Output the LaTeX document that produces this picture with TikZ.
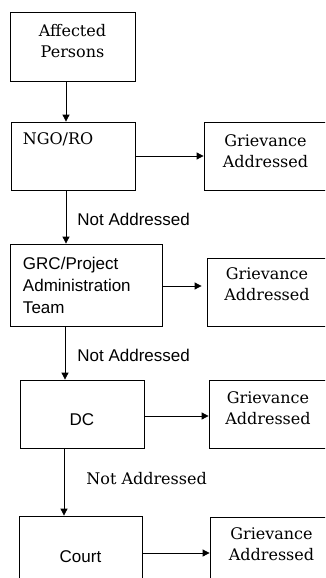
\documentclass[tikz,border=0pt]{standalone}
\usepackage{fontspec}
\usetikzlibrary{arrows.meta}
\newfontfamily\boxserif{DejaVu Serif}
\newfontfamily\boxsans{Liberation Sans}
\tikzstyle{box}=[rectangle,draw=black,thick,inner sep=0pt]
\tikzstyle{serif}=[font=\boxserif\fontsize{16}{21}\selectfont]
\tikzstyle{sans}=[font=\boxsans\fontsize{17}{22}\selectfont]
\tikzstyle{lbl}=[inner sep=0pt,anchor=west,xshift=11pt]

\begin{document}
\begin{tikzpicture}[x=1pt,y=-1pt,>={Triangle[length=7pt,width=7pt]}]
\useasboundingbox (0,0) rectangle (325,578);
\clip (0,0) rectangle (325,578);

\node (ap) at (72.5,46.5) [box,minimum width=125pt,minimum height=69pt,label={[serif,align=center,yshift=5pt]center:Affected\\Persons}] {};
\node (ngo) at (73,156) [box,minimum width=124pt,minimum height=68pt,label={[serif,anchor=north west,inner sep=0pt,xshift=12pt,yshift=-11pt]north west:NGO/RO}] {};
\node (grc) at (86,285) [box,sans,align=left,text width=126pt,inner xsep=13pt,minimum height=82pt] {GRC/Project\\Administration\\Team};
\node (dc) at (82,414) [box,minimum width=124pt,minimum height=68pt,label={[sans,yshift=-6pt]center:DC}] {};
\node (court) at (80.5,557) [box,sans,minimum width=123pt,minimum height=82pt] {Court};

\node (g1) at (265.5,156) [box,minimum width=123pt,minimum height=68pt,label={[serif,align=center,yshift=5pt]center:Grievance\\Addressed}] {};
\node (g2) at (267,292) [box,minimum width=120pt,minimum height=68pt,label={[serif,align=center,yshift=8pt]center:Grievance\\Addressed}] {};
\node (g3) at (268,414) [box,minimum width=118pt,minimum height=68pt,label={[serif,align=center,yshift=6pt]center:Grievance\\Addressed}] {};
\node (g4) at (271.5,551) [box,minimum width=123pt,minimum height=68pt,label={[serif,align=center,yshift=6.5pt]center:Grievance\\Addressed}] {};

\draw[->, thick] ([xshift=-6.5pt]ap.south) -- ([xshift=-6.5pt]ap.south |- ngo.north);
\draw[->, thick] (ngo.east) -- (g1.west);
\draw[->, thick] ([xshift=-7pt]ngo.south) -- ([xshift=-7pt]ngo.south |- grc.north) node[pos=0.55, lbl, sans] {Not Addressed};
\draw[->, thick, shorten >=5pt] ([yshift=-1pt]grc.east) -- ([yshift=-1pt]grc.east -| g2.west);
\draw[->, thick] ([xshift=-21pt]grc.south) -- ([xshift=-21pt]grc.south |- dc.north) node[pos=0.55, lbl, sans, xshift=1pt] {Not Addressed};
\draw[->, thick] ([yshift=-2pt]dc.east) -- ([yshift=-2pt]dc.east -| g3.west);
\draw[->, thick] ([xshift=-18pt]dc.south) -- ([xshift=-18pt]dc.south |- court.north) node[pos=0.45, lbl, serif, xshift=11pt] {Not Addressed};
\draw[->, thick] ([yshift=4pt]court.east) -- ([yshift=4pt]court.east -| g4.west);
\end{tikzpicture}
\end{document}
